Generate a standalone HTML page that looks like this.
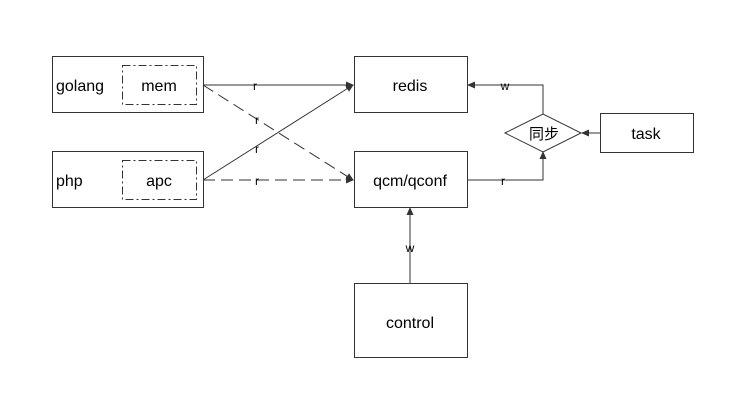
<!DOCTYPE html>
<html><head><style>
body{margin:0;background:#fff;}
svg{display:block;font-family:"Liberation Sans","Noto Sans CJK SC",sans-serif;}
</style></head><body>
<svg width="730" height="402" viewBox="0 0 730 402">
<defs><marker id="a" markerWidth="8" markerHeight="8" refX="7" refY="4" orient="auto" markerUnits="userSpaceOnUse"><path d="M0,0.5 L8,4 L0,7.5 Z" fill="#333"/></marker></defs>
<g fill="none" stroke="#333" stroke-width="1">
<rect x="52.5" y="56.5" width="151" height="56"/>
<rect x="52.5" y="151.5" width="151" height="56"/>
<rect x="122.5" y="65.5" width="74" height="39" stroke-dasharray="8,3,2,3"/>
<rect x="122.5" y="160.5" width="74" height="39" stroke-dasharray="8,3,2,3"/>
<rect x="354.5" y="56.5" width="113" height="56"/>
<rect x="354.5" y="151.5" width="113" height="56"/>
<rect x="354.5" y="283.5" width="113" height="74"/>
<rect x="600.5" y="113.5" width="93" height="39"/>
<path d="M505,133 L543,114 L581,133 L543,152 Z"/>
<path d="M203,85 L353,85" marker-end="url(#a)"/>
<path d="M203,85 L353,180" stroke-dasharray="12,6" marker-end="url(#a)"/>
<path d="M203,180 L353,85" marker-end="url(#a)"/>
<path d="M203,180 L353,180" stroke-dasharray="12,6" marker-end="url(#a)"/>
<path d="M543,114 L543,85 L468,85" marker-end="url(#a)"/>
<path d="M467,180 L543,180 L543,152" marker-end="url(#a)"/>
<path d="M600,133 L582,133" marker-end="url(#a)"/>
<path d="M410,283 L410,208" marker-end="url(#a)"/>
</g>
<g font-size="16" fill="#000">
<text x="56" y="91">golang</text>
<text x="159" y="91" text-anchor="middle">mem</text>
<text x="56" y="186">php</text>
<text x="159" y="186" text-anchor="middle">apc</text>
<text x="410" y="91" text-anchor="middle">redis</text>
<text x="410" y="186" text-anchor="middle">qcm/qconf</text>
<text x="410" y="328" text-anchor="middle">control</text>
<text x="646" y="139" text-anchor="middle">task</text>
<text x="544" y="139" text-anchor="middle" font-size="15">同步</text>
</g>
<g font-size="12" fill="#000" text-anchor="middle">
<text x="255" y="90">r</text>
<text x="257" y="124">r</text>
<text x="257" y="153">r</text>
<text x="257" y="185">r</text>
<text x="505" y="90">w</text>
<text x="503" y="185">r</text>
<text x="410" y="252">w</text>
</g>
</svg>
</body></html>
